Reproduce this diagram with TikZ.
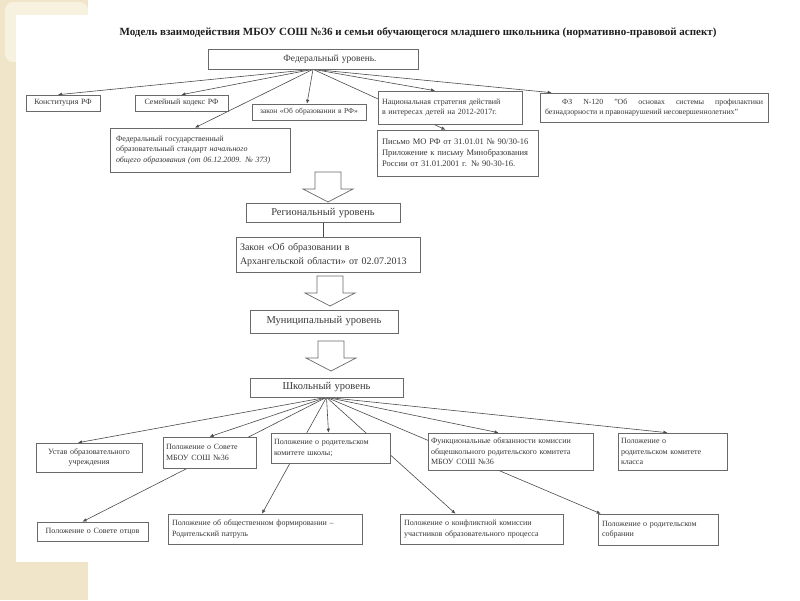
\documentclass[tikz,border=0pt]{standalone}
\usepackage{fontspec}
\setmainfont{Liberation Serif}
\usetikzlibrary{arrows.meta}
\pgfdeclarelayer{back}
\pgfdeclarelayer{edges}
\pgfsetlayers{back,edges,main}
\definecolor{beige}{RGB}{240,229,200}
\definecolor{beigelt}{RGB}{247,241,224}
\definecolor{boxline}{RGB}{105,105,105}
\definecolor{txt}{RGB}{55,55,55}
\definecolor{edgecol}{RGB}{75,75,75}
\tikzset{
 box/.style={draw=boxline, fill=white, line width=0.6pt, inner xsep=3pt, inner ysep=2pt, text=txt, font=\fontsize{8}{10.5}\selectfont, align=left},
 lvl/.style={box, font=\fontsize{10.5}{12}\selectfont, align=center},
 edge/.style={draw=edgecol, line width=0.6pt, -{Latex[length=4pt,width=3.5pt]}},
 plainedge/.style={draw=edgecol, line width=0.6pt},
 blockarrow/.pic={\draw[boxline, fill=white, line width=0.7pt, line join=miter] (-13,0) -- (13,0) -- (13,17) -- (25,17) -- (0,30) -- (-25,17) -- (-13,17) -- cycle;}
}
\begin{document}
\begin{tikzpicture}[x=1pt,y=-1pt]
\useasboundingbox (0,0) rectangle (800,600);
\begin{pgfonlayer}{back}
\fill[white] (0,0) rectangle (800,600);
\fill[beige] (0,0) rectangle (88,600);
\fill[beigelt, rounded corners=8pt] (5,2) rectangle (88,62);
\fill[white] (16,15) rectangle (800,562);
\end{pgfonlayer}

% title
\node[font=\fontsize{11}{13}\selectfont\bfseries, text={rgb,255:red,30;green,30;blue,30}, inner sep=0pt] (title) at (418,33) {Модель взаимодействия МБОУ СОШ №36 и семьи обучающегося младшего школьника (нормативно-правовой аспект)};

% federal level
\node[lvl, text width=204pt, minimum height=20pt, font=\fontsize{9.5}{11}\selectfont] (fed) at (313,59) {\hspace*{34pt}Федеральный уровень.};
\node[box, text width=68pt, minimum height=16pt, align=center] (konst) at (63,103) {Конституция РФ};
\node[box, text width=87pt, minimum height=16pt, align=center] (sem) at (181.5,103) {Семейный кодекс РФ};
\node[box, text width=108pt, minimum height=16pt, align=center, font=\fontsize{7.5}{10}\selectfont] (zakon) at (309,112) {закон «Об образовании в РФ»};
\node[box, text width=136pt, inner xsep=4pt, minimum height=33pt] (nac) at (450,107.5) {Национальная стратегия действий\\в интересах детей на 2012-2017г.};
\node[box, text width=218pt, inner xsep=5pt, minimum height=29pt, align=justify, font=\fontsize{7.8}{10}\selectfont] (fz) at (654,107.5) {\hspace*{2.2em}ФЗ N-120 "Об основах системы профилактики\linebreak безнадзорности и правонарушений несовершеннолетних"};
\node[box, text width=168pt, inner xsep=6pt, minimum height=44pt] (fgos) at (200,150) {Федеральный государственный\\образовательный стандарт \textit{начального}\\\textit{общего образования (от 06.12.2009. № 373)}};
\node[box, text width=151pt, inner xsep=5pt, minimum height=46pt, font=\fontsize{8.5}{11}\selectfont] (pismo) at (457.5,153) {Письмо МО РФ от 31.01.01 № 90/30-16\\Приложение к письму Минобразования\\России от 31.01.2001 г. № 90-30-16.};

\pic at (328,172) {blockarrow};

% regional
\node[lvl, text width=148pt, minimum height=19pt] (reg) at (323,213) {Региональный уровень};
\node[box, text width=176pt, inner xsep=4pt, minimum height=35pt, font=\fontsize{10}{14}\selectfont] (zakarh) at (328,254.5) {Закон «Об образовании в\\Архангельской области» от 02.07.2013};

\pic at (330,276) {blockarrow};

\node[lvl, text width=142pt, minimum height=23pt] (mun) at (324,321.5) {Муниципальный уровень};

\pic at (331,341) {blockarrow};

\node[lvl, text width=147pt, minimum height=19pt] (sch) at (326.5,387.5) {Школьный уровень};

% school row 1
\node[box, text width=100pt, minimum height=29pt, align=center] (ustav) at (89,457.5) {Устав образовательного\\учреждения};
\node[box, text width=87pt, minimum height=31pt] (sovet) at (209.5,452.5) {Положение о Совете\\МБОУ СОШ №36};
\node[box, text width=113pt, minimum height=30pt] (rodkom) at (330.5,448) {Положение о родительском\\комитете школы;};
\node[box, text width=159pt, minimum height=37pt] (funk) at (510.5,451.5) {Функциональные обязанности комиссии\\общешкольного родительского комитета\\МБОУ СОШ №36};
\node[box, text width=103pt, minimum height=37pt] (polkl) at (672.5,451.5) {Положение о\\родительском комитете\\класса};

% school row 2
\node[box, text width=105pt, minimum height=19pt, align=center] (sovotc) at (92.5,531.5) {Положение о Совете отцов};
\node[box, text width=186pt, inner xsep=4pt, minimum height=30pt] (patrul) at (265,529) {Положение об общественном формировании –\\Родительский патруль};
\node[box, text width=155pt, inner xsep=4pt, minimum height=30pt] (konfl) at (481.5,529) {Положение о конфликтной комиссии\\участников образовательного процесса};
\node[box, text width=112pt, inner xsep=4pt, minimum height=31pt] (sobr) at (658,529.5) {Положение о родительском\\собрании};

\begin{pgfonlayer}{edges}
\draw[edge] (fed.south) -- ([xshift=-5pt]konst.north);
\draw[edge] (fed.south) -- (sem.north);
\draw[edge] (fed.south) -- ([xshift=-2pt]zakon.north);
\draw[edge] (fed.south) -- ([xshift=-5pt]fgos.north);
\draw[edge] (fed.south) -- ([xshift=-15pt]nac.north);
\draw[edge] (fed.south) -- ([xshift=12pt]fz.north west);
\draw[edge] (fed.south) -- ([xshift=-12pt]pismo.north);
\draw[plainedge] (reg.south) -- (reg.south |- zakarh.north);
\draw[edge] (sch.south) -- ([xshift=-11pt]ustav.north);
\draw[edge] (sch.south) -- (sovet.north);
\draw[edge] (sch.south) -- ([xshift=-10pt]sovotc.north);
\draw[edge] (sch.south) -- ([xshift=-2pt]rodkom.north);
\draw[edge] (sch.south) -- ([xshift=-3pt]patrul.north);
\draw[edge] (sch.south) -- ([xshift=-26pt]konfl.north);
\draw[edge] (sch.south) -- ([xshift=-12pt]funk.north);
\draw[edge] (sch.south) -- ([xshift=3pt]sobr.north west);
\draw[edge] (sch.south) -- ([xshift=-5pt]polkl.north);
\end{pgfonlayer}
\end{tikzpicture}
\end{document}
